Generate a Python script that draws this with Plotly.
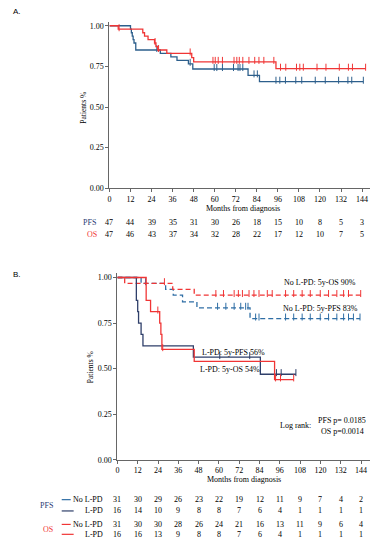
import numpy as np
import plotly.graph_objects as go

# ---------------- DATA ----------------
# Panel A (whole cohort)
A_PFS_t = [0, 12, 12.5, 13, 13.5, 14, 15, 29, 35, 38.5, 45, 47.5, 79, 85.5]
A_PFS_s = [1, .979, .957, .936, .915, .894, .851, .830, .809, .787, .766, .734, .695, .656]
A_PFS_cens = [27, 46, 59.7, 61.2, 64.4, 70.7, 73.3, 74.4, 76, 82.4, 84.3, 94.9, 97.1, 100.3,
              106.2, 109.6, 117.3, 123, 130.6, 135.9, 138.1, 144.7]
A_OS_t = [0, 5, 19, 20, 22, 25.7, 26.5, 27.5, 32.7, 46.9, 48, 94.9]
A_OS_s = [1, .979, .957, .936, .915, .894, .872, .851, .830, .804, .778, .736]
A_OS_cens = [5.5, 26, 28, 46, 59, 60.3, 62, 64.4, 71, 72.6, 74, 76, 79.5, 82.8, 85.2, 88, 93.7,
             97.5, 100.5, 106.6, 108.5, 110.5, 118.3, 123.4, 131, 136.2, 138.5, 146]

# Panel B (by L-PD)
B_PFS_no_t = [0, 14, 28.5, 33, 38.5, 47, 78.4]
B_PFS_no_s = [1, .968, .935, .903, .866, .833, .774]
B_PFS_no_cens = [16.6, 59.2, 64.1, 69, 72.9, 75.8, 77.2, 81.7, 83.7, 99.4, 104.2, 109.2, 114,
                 119.9, 124.8, 129.7, 133.7, 136.6, 139.5, 143.4]
B_OS_no_t = [0, 4.3, 32.7, 45.4]
B_OS_no_s = [1, .968, .935, .903]
B_OS_no_cens = [27.8, 58.2, 62.7, 69, 71.5, 73.9, 77.8, 80.7, 83.7, 88.6, 91.5, 99.4, 104.2,
                109.2, 114, 119.9, 124.8, 129.7, 133.7, 136.6, 143.8]
B_PFS_l_t = [0, 11.2, 12, 12.5, 14, 15.1, 44.9, 84.5]
B_PFS_l_s = [1, .875, .8125, .75, .6875, .625, .5625, .469]
B_PFS_l_cens = [60.5, 78.2, 94, 96.8, 105.5]
B_OS_l_t = [0, 17, 19.6, 25, 25.7, 26.3, 45.4, 92.9]
B_OS_l_s = [1, .875, .8125, .75, .6875, .606, .54, .44]
B_OS_l_cens = [23.9, 26.8, 93.5, 96.4, 104.2]

months = [0, 12, 24, 36, 48, 60, 72, 84, 96, 108, 120, 132, 144]
A_risk_PFS = [47, 44, 39, 35, 31, 30, 26, 18, 15, 10, 8, 5, 3]
A_risk_OS = [47, 46, 43, 37, 34, 32, 28, 22, 17, 12, 10, 7, 5]
B_risk_PFS_no = [31, 30, 29, 26, 23, 22, 19, 12, 11, 9, 7, 4, 2]
B_risk_PFS_l = [16, 14, 10, 9, 8, 8, 7, 6, 4, 1, 1, 1, 1]
B_risk_OS_no = [31, 30, 30, 28, 26, 24, 21, 16, 13, 11, 9, 6, 4]
B_risk_OS_l = [16, 16, 13, 9, 8, 8, 7, 6, 4, 1, 1, 1, 1]

# ---------------- STYLE ----------------
# The page body has an 8px margin, so the figure is made 16px smaller and all
# positions below (given in window pixels) are shifted by that margin.
OFF = 8
W, H = 378 - 2 * OFF, 550 - 2 * OFF
SERIF = "Liberation Serif"
FS = 8
BLUE_A = "#2d5f8c"
RED = "#f03535"
NAVY = "#2f3f6a"
BLUE_D = "#2f6ea5"
AX = "#666666"


def py(p):
    return min(1.0, max(0.0, 1 - (p - OFF) / H))


def px(p):
    return min(1.0, max(0.0, (p - OFF) / W))


fig = go.Figure()


def km(t, s, cens, color, xa, ya, dash="solid"):
    t = np.asarray(t, float)
    s = np.asarray(s, float)
    end = max(max(cens), t[-1])
    xs = list(t) + [end]
    ys = list(s) + [s[-1]]
    fig.add_trace(go.Scatter(x=xs, y=ys, mode="lines", line_shape="hv",
                             line=dict(color=color, width=1.3, dash=dash),
                             xaxis=xa, yaxis=ya, showlegend=False, hoverinfo="skip",
                             cliponaxis=False))
    c = np.asarray(cens, float)
    cy = s[np.searchsorted(t, c, side="right") - 1]
    fig.add_trace(go.Scatter(x=c, y=cy + 0.009, mode="markers",
                             marker=dict(symbol="line-ns", size=5,
                                         line=dict(width=1, color=color)),
                             xaxis=xa, yaxis=ya, showlegend=False, hoverinfo="skip",
                             cliponaxis=False))


km(A_PFS_t, A_PFS_s, A_PFS_cens, BLUE_A, "x", "y")
km(A_OS_t, A_OS_s, A_OS_cens, RED, "x", "y")
km(B_PFS_no_t, B_PFS_no_s, B_PFS_no_cens, BLUE_D, "x2", "y2", dash="5px,3px")
km(B_OS_no_t, B_OS_no_s, B_OS_no_cens, RED, "x2", "y2", dash="5px,3px")
km(B_PFS_l_t, B_PFS_l_s, B_PFS_l_cens, NAVY, "x2", "y2")
km(B_OS_l_t, B_OS_l_s, B_OS_l_cens, RED, "x2", "y2")

axis_common = dict(showline=True, linecolor=AX, linewidth=1, ticks="outside", ticklen=3,
                   tickcolor=AX, showgrid=False, zeroline=False,
                   tickfont=dict(family=SERIF, size=FS, color="black"))

fig.update_layout(
    width=W, height=H, margin=dict(l=0, r=0, t=0, b=0),
    paper_bgcolor="white", plot_bgcolor="white",
    xaxis=dict(domain=[px(108), px(370)], range=[0, 148.5], tickvals=months,
               anchor="y", **axis_common),
    yaxis=dict(domain=[py(190), py(22)], range=[0, 1.024],
               tickvals=[0, .25, .5, .75, 1], tickformat=".2f", anchor="x", **axis_common),
    xaxis2=dict(domain=[px(116), px(370)], range=[0, 149.3], tickvals=months,
                anchor="y2", **axis_common),
    yaxis2=dict(domain=[py(464), py(276)], range=[0, 1.022],
                tickvals=[0, .25, .5, .75, 1], tickformat=".2f", anchor="x2", **axis_common),
)

ann = []


def txt(x, y, s, size=FS, color="black", xref="paper", xanchor="center", family=SERIF,
        angle=0):
    ann.append(dict(x=x, y=y, text=s, xref=xref, yref="paper", showarrow=False,
                    xanchor=xanchor, yanchor="middle", textangle=angle,
                    font=dict(family=family, size=size, color=color)))


# Panel labels
txt(px(9), py(12), "A.", size=8, xanchor="left", family="Liberation Sans")
txt(px(9), py(277), "B.", size=8, xanchor="left", family="Liberation Sans")

# Axis titles
txt(px(242), py(210), "Months from diagnosis")
txt(px(243), py(484), "Months from diagnosis")
txt(px(81), py(109), "Patients %", size=7.5, angle=-90)
txt(px(89), py(371), "Patients %", size=7.5, angle=-90)

# Risk table A
txt(px(88), py(224.5), "PFS", color="#1f3a73")
txt(px(90), py(237), "OS", color=RED)
for m, a, b in zip(months, A_risk_PFS, A_risk_OS):
    txt(m, py(224.5), str(a), xref="x")
    txt(m, py(237), str(b), xref="x")

# Risk table B
txt(px(45), py(510), "PFS", color="#1f3a73")
txt(px(46), py(534), "OS", color=RED)
for lab, yy in [("No L-PD", 504.3), ("L-PD", 515.7), ("No L-PD", 529.3), ("L-PD", 539.3)]:
    txt(px(104), py(yy), lab, xanchor="right")
for m, a, b, c, d in zip(months, B_risk_PFS_no, B_risk_PFS_l, B_risk_OS_no, B_risk_OS_l):
    txt(m, py(504.3), str(a), xref="x2")
    txt(m, py(515.7), str(b), xref="x2")
    txt(m, py(529.3), str(c), xref="x2")
    txt(m, py(539.3), str(d), xref="x2")

# Panel B annotations
txt(px(358), py(285), "No L-PD: 5y-OS 90%", xanchor="right")
txt(px(360), py(311), "No L-PD: 5y-PFS 83%", xanchor="right")
txt(px(199), py(356), "L-PD: 5y-PFS 56%", xanchor="left")
txt(px(197), py(373), "L-PD: 5y-OS 54%", xanchor="left")
txt(px(277), py(429), "Log rank:", xanchor="left")
txt(px(368), py(424), "PFS p= 0.0185", xanchor="right")
txt(px(366), py(435), "OS p=0.0014", xanchor="right")

fig.update_layout(annotations=ann)

# Legend line samples in risk table B
shapes = []
for yy, col, dash in [(504.3, BLUE_D, "dash"), (515.7, NAVY, "solid"),
                      (529.3, RED, "dash"), (539.3, RED, "solid")]:
    shapes.append(dict(type="line", xref="paper", yref="paper", x0=px(60), x1=px(72),
                       y0=py(yy), y1=py(yy), line=dict(color=col, width=1.2, dash=dash)))
fig.update_layout(shapes=shapes)

fig.write_html("out.html")
